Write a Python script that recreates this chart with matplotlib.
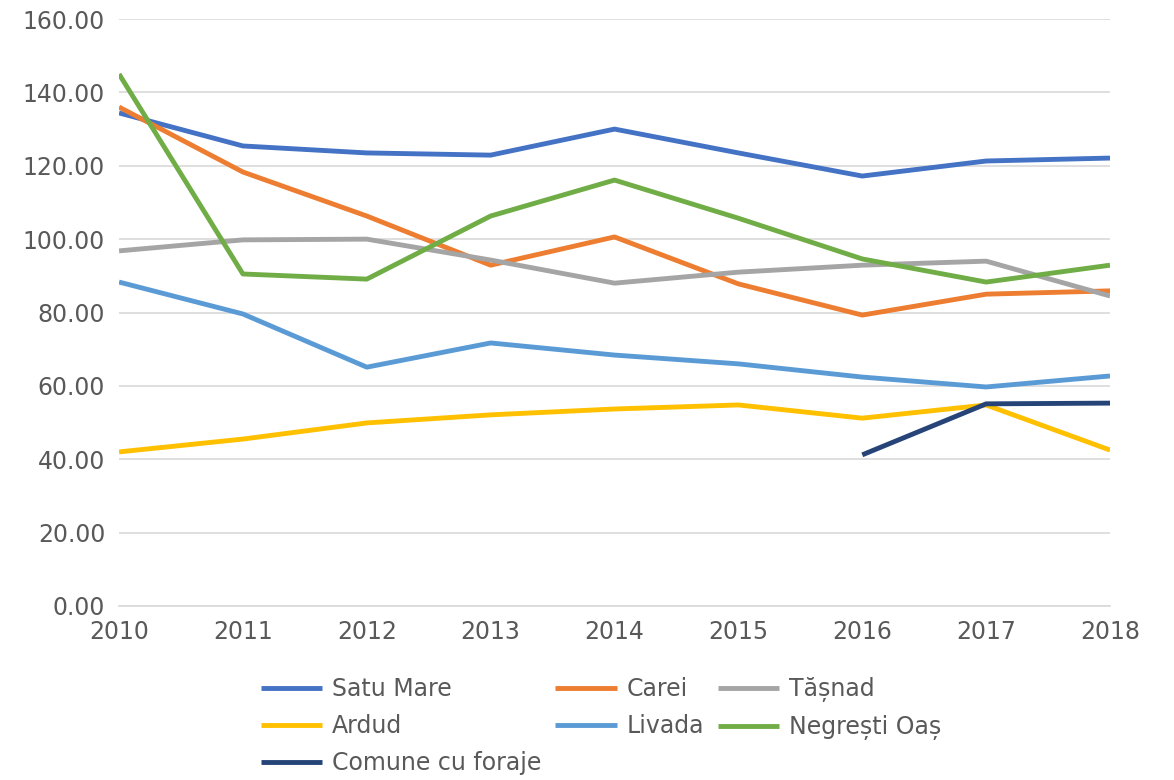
import matplotlib.pyplot as plt
from matplotlib.ticker import FormatStrFormatter

years = [2010, 2011, 2012, 2013, 2014, 2015, 2016, 2017, 2018]

satu_mare = [134.4, 125.4, 123.5, 122.9, 130.0, 123.5, 117.2, 121.3, 122.1]
carei = [136.0, 118.3, 106.3, 92.9, 100.6, 87.8, 79.3, 85.0, 85.9]
tasnad = [96.8, 99.8, 100.0, 94.3, 88.0, 91.0, 92.9, 94.0, 84.5]
ardud = [42.0, 45.5, 49.9, 52.1, 53.7, 54.8, 51.2, 54.8, 42.5]
livada = [88.3, 79.6, 65.1, 71.7, 68.4, 66.0, 62.4, 59.7, 62.7]
negresti = [145.0, 90.5, 89.1, 106.3, 116.1, 105.7, 94.6, 88.3, 92.9]
foraje_years = [2016, 2017, 2018]
foraje = [41.2, 55.1, 55.3]

series = [
    ("Satu Mare", years, satu_mare, "#4472C4"),
    ("Carei", years, carei, "#ED7D31"),
    ("Tășnad", years, tasnad, "#A5A5A5"),
    ("Ardud", years, ardud, "#FFC000"),
    ("Livada", years, livada, "#5B9BD5"),
    ("Negrești Oaș", years, negresti, "#70AD47"),
    ("Comune cu foraje", foraje_years, foraje, "#264478"),
]

plt.rcParams['font.family'] = ['DejaVu Sans']
txt = "#595959"
grid = "#D9D9D9"

fig = plt.figure(figsize=(11.74, 7.8), dpi=100)
ax = fig.add_axes([0.1014, 0.2231, 0.8441, 0.7525])

handles = {}
for name, x, y, c in series:
    h, = ax.plot(x, y, color=c, lw=3.5, label=name, solid_capstyle='butt')
    handles[name] = h

ax.set_xlim(2010, 2018)
ax.set_ylim(0, 160)
ax.set_yticks(range(0, 161, 20))
ax.set_xticks(years)
ax.yaxis.set_major_formatter(FormatStrFormatter('%.2f'))
ax.grid(axis='y', color=grid, lw=1.2)
ax.set_axisbelow(True)
for s in ['top', 'right', 'left']:
    ax.spines[s].set_visible(False)
ax.spines['bottom'].set_color(grid)
ax.spines['bottom'].set_linewidth(1.2)
ax.tick_params(length=0, labelsize=17, colors=txt, pad=10)

# legend filled row by row like the original, so reorder for ncol
order = ["Satu Mare", "Ardud", "Comune cu foraje", "Carei", "Livada",
         "Tășnad", "Negrești Oaș"]
leg = fig.legend([handles[n] for n in order], order, ncol=3,
                 loc='upper center', bbox_to_anchor=(0.512, 0.153),
                 frameon=False, fontsize=17, handlelength=2.6,
                 handletextpad=0.4, columnspacing=0.6, labelspacing=0.55,
                 borderpad=0.2)
for t in leg.get_texts():
    t.set_color(txt)

fig.savefig("out.png", dpi=100)
